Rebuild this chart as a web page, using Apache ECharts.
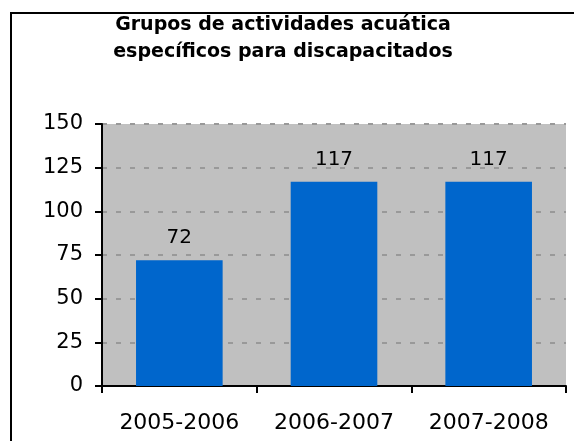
<!DOCTYPE html>
<html>
<head>
<meta charset="utf-8">
<script src="https://cdn.jsdelivr.net/npm/echarts@6/dist/echarts.min.js"></script>
<style>
  html, body { margin: 0; padding: 0; background: #fff; }
  #chart { width: 574px; height: 441px; }
</style>
</head>
<body>
<div id="chart"></div>
<script>
// values
var categories = ['2005-2006', '2006-2007', '2007-2008'];
var grupos = [72, 117, 117];
var titleLines = ['Grupos de actividades acuática', 'específicos para discapacitados'];

var font = 'DejaVu Sans, Verdana, sans-serif';

var chart = echarts.init(document.getElementById('chart'));
chart.setOption({
    animation: false,
    backgroundColor: '#fff',
    title: {
        text: titleLines.join('\n'),
        left: 283,
        top: 12,
        padding: 0,
        textAlign: 'center',
        textStyle: {
            fontFamily: font,
            fontSize: 19,
            fontWeight: 'bold',
            color: '#000',
            lineHeight: 27
        }
    },
    graphic: [{
        type: 'rect',
        silent: true,
        shape: { x: 11, y: 13, width: 700, height: 600 },
        style: { fill: null, stroke: '#000', lineWidth: 2 }
    }],
    grid: {
        left: 102,
        right: 8,
        top: 124,
        bottom: 55,
        show: true,
        backgroundColor: '#c0c0c0',
        borderWidth: 0
    },
    xAxis: {
        type: 'category',
        data: categories,
        axisLine: { lineStyle: { color: '#000', width: 2 } },
        axisTick: { show: true, interval: 0, length: 7, lineStyle: { color: '#000', width: 2 } },
        axisLabel: { interval: 0, hideOverlap: false, fontFamily: font, fontSize: 22, color: '#000', margin: 26 }
    },
    yAxis: {
        type: 'value',
        min: 0,
        max: 150,
        interval: 25,
        axisLine: { show: true, lineStyle: { color: '#000', width: 2 } },
        axisTick: { show: true, length: 7, lineStyle: { color: '#000', width: 2 } },
        axisLabel: { fontFamily: font, fontSize: 21, color: '#000', margin: 19 },
        splitLine: { lineStyle: { color: '#999', width: 2, type: [5, 9] } }
    },
    series: [{
        type: 'bar',
        data: grupos,
        barWidth: '56%',
        itemStyle: { color: '#0066cc' },
        label: {
            show: true,
            position: 'top',
            distance: 12,
            fontFamily: font,
            fontSize: 20,
            color: '#000'
        }
    }]
});
</script>
</body>
</html>
